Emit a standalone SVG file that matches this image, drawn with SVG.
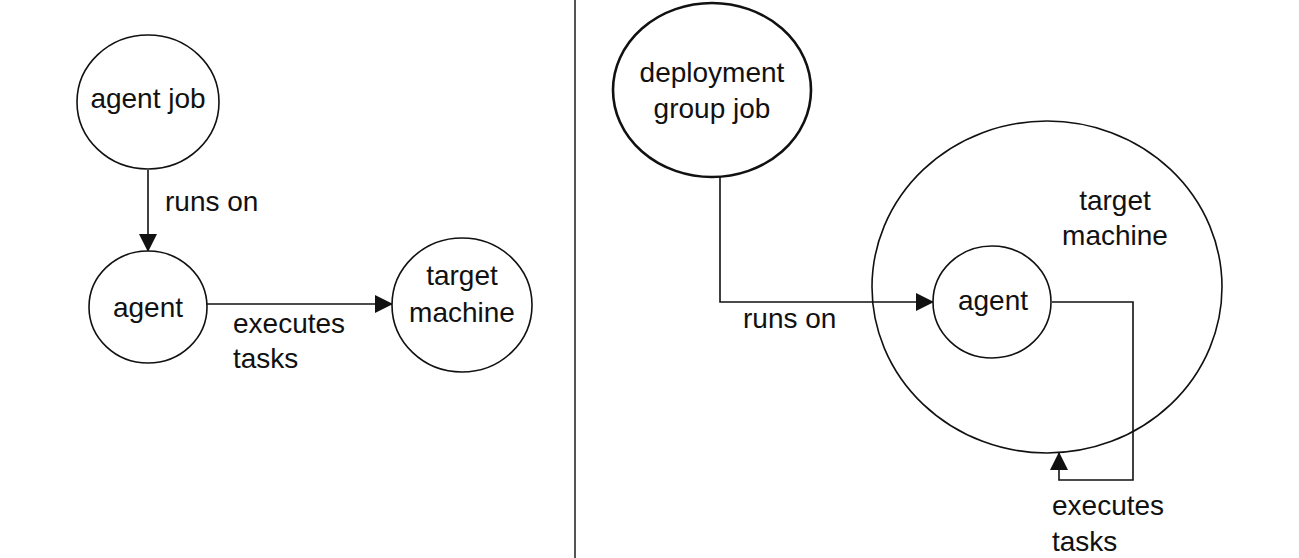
<svg xmlns="http://www.w3.org/2000/svg" width="1299" height="558" viewBox="0 0 1299 558">
<defs>
<style>
.node{fill:#fff;stroke:#111;stroke-width:1.6}
.thick{stroke-width:2.6}
.lbl{font-family:"Liberation Sans",Arial,sans-serif;font-size:28px;fill:#111}
.mid{text-anchor:middle}
.conn{fill:none;stroke:#111;stroke-width:1.6}
</style>
<marker id="arr" viewBox="0 0 18 18" markerWidth="18" markerHeight="18" refX="17" refY="9" orient="auto" markerUnits="userSpaceOnUse">
<path d="M0,0 L18,9 L0,18 Z" fill="#111"/>
</marker>
</defs>
<rect width="1299" height="558" fill="#fff"/>
<line x1="575" y1="0" x2="575" y2="558" stroke="#555" stroke-width="2"/>
<g id="connectors">
<path class="conn" d="M148,170 V251" marker-end="url(#arr)"/>
<path class="conn" d="M207,304 H392" marker-end="url(#arr)"/>
<path class="conn" d="M720,177 V302 H933" marker-end="url(#arr)"/>
<path class="conn" d="M1052,302 H1133 V480 H1059 V453" marker-end="url(#arr)"/>
</g>
<g id="agent-job">
<ellipse class="node" cx="148" cy="102" rx="71" ry="67"/>
<text class="lbl mid" x="148" y="108">agent job</text>
</g>
<g id="agent-left">
<ellipse class="node" cx="148" cy="307" rx="59" ry="56"/>
<text class="lbl mid" x="148" y="317">agent</text>
</g>
<g id="target-left">
<ellipse class="node" cx="462" cy="305" rx="70" ry="67"/>
<text class="lbl mid" x="462" y="285">target</text>
<text class="lbl mid" x="462" y="322">machine</text>
</g>
<g id="label-runs-on-left"><text class="lbl" x="165" y="211">runs on</text></g>
<g id="label-executes-left">
<text class="lbl" x="233" y="333">executes</text>
<text class="lbl" x="233" y="368">tasks</text>
</g>
<g id="deployment-group-job">
<ellipse class="node thick" cx="712" cy="90" rx="99" ry="87"/>
<text class="lbl mid" x="712" y="82">deployment</text>
<text class="lbl mid" x="712" y="118">group job</text>
</g>
<g id="target-right">
<ellipse class="node" cx="1047" cy="287" rx="175" ry="166" fill="none" style="fill:none"/>
<text class="lbl mid" x="1115" y="210">target</text>
<text class="lbl mid" x="1115" y="245">machine</text>
</g>
<g id="agent-right">
<ellipse class="node" cx="992" cy="302" rx="59" ry="56"/>
<text class="lbl mid" x="993" y="310">agent</text>
</g>
<g id="label-runs-on-right"><text class="lbl" x="743" y="328">runs on</text></g>
<g id="label-executes-right">
<text class="lbl" x="1052" y="515">executes</text>
<text class="lbl" x="1052" y="551">tasks</text>
</g>
</svg>
